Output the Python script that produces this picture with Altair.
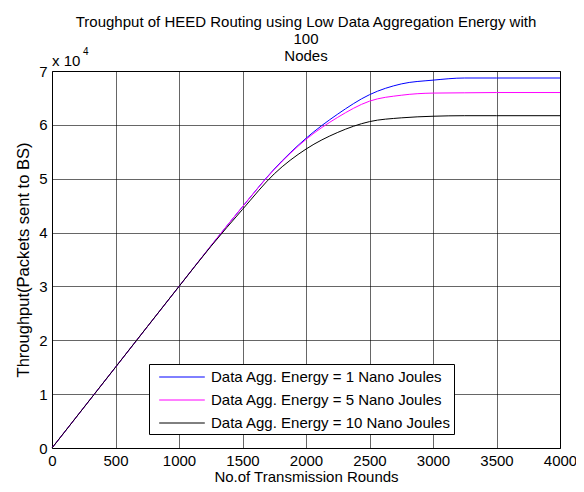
import altair as alt
import pandas as pd

rounds = [0, 500, 1000, 1250, 1500, 1750, 2000, 2250, 2500, 2750, 3000, 3250, 3500, 4000]
e1 = [0, 15000, 30000, 37500, 44800, 51800, 57500, 62000, 65600, 67600, 68300, 68700, 68700, 68700]
e5 = [0, 15000, 30000, 37500, 44800, 51700, 57300, 61400, 64400, 65500, 65900, 65950, 66000, 66000]
e10 = [0, 15000, 30000, 37400, 44300, 50900, 55500, 58600, 60600, 61300, 61600, 61700, 61700, 61700]
labels = [
    "Data Agg. Energy = 1 Nano Joules",
    "Data Agg. Energy = 5 Nano Joules",
    "Data Agg. Energy = 10 Nano Joules",
]
colors = ["#0000ff", "#ff00ff", "#000000"]
title_lines = ["Troughput of HEED Routing using Low Data Aggregation Energy with", "100", "Nodes"]

rows = []
for lab, ser in zip(labels, [e1, e5, e10]):
    for r, v in zip(rounds, ser):
        rows.append({"round": r, "value": v, "series": lab})
df = pd.DataFrame(rows)

FONT = "Liberation Sans"
FS = 15
NB = "\u00a0" * 4

lines = alt.Chart(df).mark_line(strokeWidth=1, interpolate="monotone").encode(
    x=alt.X("round:Q", scale=alt.Scale(domain=[0, 4000], nice=False),
            axis=alt.Axis(values=list(range(0, 4001, 500)), format="d",
                          title="No.of Transmission Rounds",
                          labelFlush=False, titlePadding=1, labelPadding=5)),
    y=alt.Y("value:Q", scale=alt.Scale(domain=[0, 70000], nice=False),
            axis=alt.Axis(values=list(range(0, 70001, 10000)), labelExpr="datum.value/10000",
                          title="Throughput(Packets sent to BS)", titleFontSize=16.5,
                          titlePadding=7, labelPadding=5)),
    color=alt.Color("series:N", scale=alt.Scale(domain=labels, range=colors), sort=labels,
                    legend=alt.Legend(title=None, orient="none", legendX=97, legendY=293,
                                      symbolType="M-2.4,0L2.4,0", symbolSize=361,
                                      symbolStrokeWidth=1, symbolFillColor="transparent",
                                      strokeColor="black", fillColor="white", padding=3,
                                      rowPadding=5, labelFontSize=FS, labelFont=FONT,
                                      labelColor="black", symbolOffset=20, labelOffset=19,
                                      labelLimit=400,
                                      labelExpr=f"datum.label + '{NB}'")),
)

exp_df = pd.DataFrame({"t": ["x 10"]})
exp_text = alt.Chart(exp_df).mark_text(align="left", baseline="middle", font=FONT, fontSize=FS,
                                         color="black").encode(
    x=alt.value(0), y=alt.value(-10.5), text="t:N")
sup_df = pd.DataFrame({"t": ["4"]})
sup_text = alt.Chart(sup_df).mark_text(align="left", baseline="middle", font=FONT, fontSize=10,
                                         color="black").encode(
    x=alt.value(31), y=alt.value(-19.5), text="t:N")

chart = alt.layer(lines, exp_text, sup_text).properties(
    width=508, height=377,
    title=alt.TitleParams(title_lines, font=FONT, fontSize=FS, fontWeight="normal",
                          color="black", lineHeight=17, offset=-17, anchor="middle"),
    autosize=alt.AutoSizeParams(type="none"),
    padding={"left": 44, "top": 63, "right": 16, "bottom": 36},
).configure_view(stroke="black", strokeWidth=1).configure_axis(
    grid=True, gridColor="#000000", gridOpacity=0.6, gridWidth=1, ticks=False,
    domain=False, labelFont=FONT, labelFontSize=FS, labelColor="black",
    titleFont=FONT, titleFontSize=FS, titleFontWeight="normal", titleColor="black",
)

chart.save("out.html", embed_options={"renderer": "svg", "actions": False})
